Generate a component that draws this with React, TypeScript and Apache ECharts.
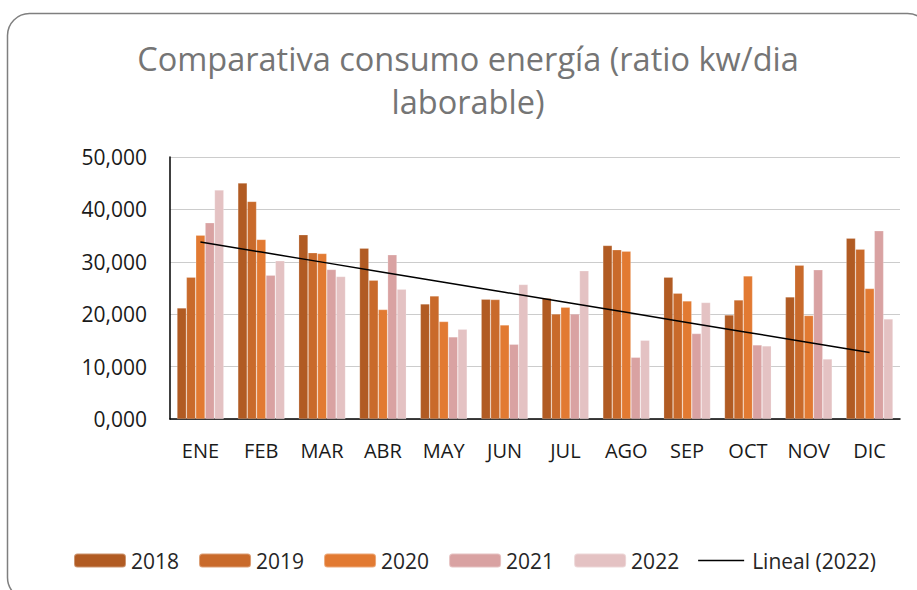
import React, { useEffect, useRef } from "react";
import * as echarts from "echarts";

const months = ["ENE", "FEB", "MAR", "ABR", "MAY", "JUN", "JUL", "AGO", "SEP", "OCT", "NOV", "DIC"];
const years = ["2018", "2019", "2020", "2021", "2022"];
const s2018 = [21.2, 45.03, 35.16, 32.61, 21.97, 22.87, 23.06, 33.12, 27.07, 19.87, 23.31, 34.52];
const s2019 = [27.07, 41.53, 31.72, 26.5, 23.5, 22.8, 20.06, 32.29, 24.01, 22.74, 29.36, 32.42];
const s2020 = [35.1, 34.27, 31.59, 20.89, 18.6, 17.96, 21.34, 32.04, 22.55, 27.32, 19.75, 24.9];
const s2021 = [37.45, 27.45, 28.54, 31.34, 15.67, 14.27, 20.06, 11.78, 16.31, 14.14, 28.47, 35.92];
const s2022 = [43.7, 30.19, 27.2, 24.78, 17.13, 25.67, 28.28, 15.03, 22.23, 13.95, 11.46, 19.11];
const seriesValues = [s2018, s2019, s2020, s2021, s2022];
const colors = ["#B15B23", "#C96A2B", "#E27A32", "#D9A2A2", "#E4C2C3"];
const trendName = "Lineal (2022)";
const titleText = "Comparativa consumo energía (ratio kw/dia\nlaborable)";

// Least-squares linear trend of the 2022 series (as the spreadsheet's trendline)
function linearTrend(values: number[]): number[] {
  const n = values.length;
  const xs = values.map((_, i) => i + 1);
  const mx = xs.reduce((a, b) => a + b, 0) / n;
  const my = values.reduce((a, b) => a + b, 0) / n;
  let sxy = 0;
  let sxx = 0;
  for (let i = 0; i < n; i++) {
    sxy += (xs[i] - mx) * (values[i] - my);
    sxx += (xs[i] - mx) * (xs[i] - mx);
  }
  const slope = sxy / sxx;
  return xs.map((x) => my + slope * (x - mx));
}

const FONT = "'Open Sans', 'Noto Sans', sans-serif";
// thin horizontal line icon (move-to points fix the bounding box to the full icon size)
const lineIcon = "path://M0,0M46,14M0,6.25H46V7.75H0Z";

export default function App() {
  const ref = useRef<HTMLDivElement>(null);
  useEffect(() => {
    if (!ref.current) return;
    const chart = echarts.init(ref.current, null, { renderer: "svg" });
    const barSeries = years.map((y, i) => ({
      name: y,
      type: "bar",
      data: seriesValues[i],
      barGap: "0%",
      barCategoryGap: "23%",
      itemStyle: { color: colors[i], borderColor: "rgba(255,255,255,0.35)", borderWidth: 0.6 },
      emphasis: { disabled: true },
    }));
    chart.setOption({
      animation: false,
      backgroundColor: "#ffffff",
      textStyle: { fontFamily: FONT },
      title: {
        text: titleText,
        left: 468,
        top: 37,
        padding: 0,
        textAlign: "center",
        textStyle: {
          fontFamily: FONT,
          fontSize: 32.5,
          fontWeight: "normal",
          color: "#757575",
          lineHeight: 43,
        },
      },
      graphic: [
        {
          type: "rect",
          shape: { x: 7.5, y: 13.5, width: 922, height: 586, r: 22 },
          style: { fill: "none", stroke: "#7f7f7f", lineWidth: 1.5 },
          silent: true,
          z: 100,
        },
      ],
      legend: {
        left: 73,
        top: 550,
        padding: 0,
        itemWidth: 52,
        itemHeight: 14,
        itemGap: 19,
        textStyle: { fontFamily: FONT, fontSize: 21, color: "#262626" },
        data: [
          ...years,
          { name: trendName, icon: lineIcon, itemStyle: { color: "#000000" } },
        ],
      },
      grid: { left: 170, right: 17, top: 157, bottom: 171, containLabel: false },
      xAxis: {
        type: "category",
        data: months,
        axisLine: { show: true, lineStyle: { color: "#000000", width: 1.5 } },
        axisTick: { show: false },
        axisLabel: { fontFamily: FONT, fontSize: 20, color: "#1a1a1a", margin: 21 },
      },
      yAxis: {
        type: "value",
        min: 0,
        max: 50,
        interval: 10,
        axisLine: { show: true, lineStyle: { color: "#000000", width: 1.5 } },
        axisTick: { show: false },
        splitLine: { show: true, lineStyle: { color: "#cccccc", width: 1.2 } },
        axisLabel: {
          fontFamily: FONT,
          fontSize: 21,
          color: "#1a1a1a",
          margin: 23,
          formatter: (v: number) => v.toFixed(3).replace(".", ","),
        },
      },
      series: [
        ...barSeries,
        {
          name: trendName,
          type: "line",
          data: linearTrend(s2022),
          symbol: "none",
          lineStyle: { color: "#000000", width: 1.5 },
          itemStyle: { color: "#000000" },
          z: 10,
          emphasis: { disabled: true },
        },
      ],
    });
    return () => chart.dispose();
  }, []);
  return (
    <div
      ref={ref}
      style={{ position: "fixed", left: 0, top: 0, width: 917, height: 590, background: "#fff" }}
    />
  );
}
